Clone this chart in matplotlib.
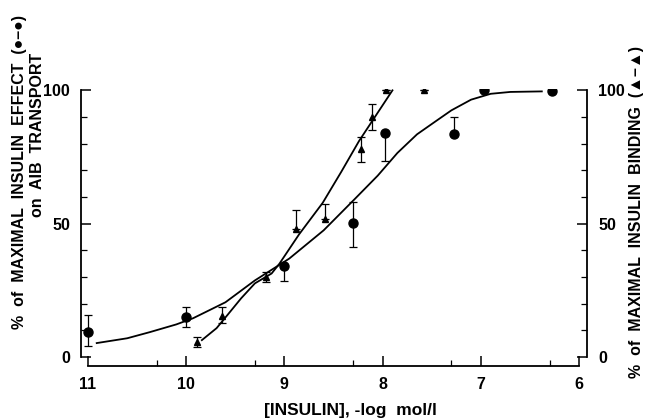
import numpy as np
import matplotlib
matplotlib.use('Agg')
import matplotlib.pyplot as plt
from matplotlib.ticker import FixedLocator

plt.rcParams['font.family'] = ['Liberation Sans', 'DejaVu Sans']

# insulin effect on AIB transport (circles)
eff_x = [11.0, 10.0, 9.0, 8.30, 7.98, 7.27, 6.97, 6.28]
eff_y = [9.3, 14.9, 34.0, 50.4, 84.0, 83.6, 100.0, 99.6]
eff_lo = [5.2, 3.7, 5.6, 9.0, 10.5, 0.0, 0.0, 0.0]
eff_hi = [6.4, 3.8, 0.0, 7.6, 0.0, 6.4, 0.0, 0.0]

# insulin binding (triangles)
bind_x = [9.89, 9.63, 9.19, 8.88, 8.59, 8.22, 8.11, 7.97, 7.58]
bind_y = [5.6, 15.3, 29.9, 48.1, 51.9, 78.0, 90.0, 100.0, 100.0]
bind_lo = [1.9, 2.6, 1.8, 0.0, 0.0, 5.0, 5.0, 0.0, 0.0]
bind_hi = [1.9, 3.4, 1.8, 7.1, 5.6, 4.5, 5.0, 0.0, 0.0]

# hand drawn curves
eff_curve_x = [10.91, 10.60, 10.37, 10.10, 9.93, 9.60, 9.30, 8.95, 8.60, 8.29, 8.05, 7.85, 7.65, 7.46, 7.30, 7.10, 6.90, 6.70, 6.38]
eff_curve_y = [5.2, 7.0, 9.3, 12.2, 14.5, 20.5, 28.7, 36.9, 47.5, 59.0, 68.0, 76.5, 83.5, 88.4, 92.5, 96.5, 98.7, 99.4, 99.6]

bind_curve_x = [9.84, 9.69, 9.58, 9.44, 9.30, 9.13, 9.05, 8.85, 8.61, 8.42, 8.24, 8.07, 7.90]
bind_curve_y = [6.3, 10.8, 15.7, 22.0, 27.6, 31.3, 35.0, 46.0, 57.8, 69.5, 81.0, 90.5, 100.0]

x_ticks = [11, 10, 9, 8, 7, 6]
x_minor = [10.3, 9.3, 8.3, 7.3, 6.3]
y_ticks = [0, 50, 100]

fig = plt.figure(figsize=(6.48, 4.2), dpi=100)
ax = fig.add_axes([81 / 648, 1 - 366 / 420, (587 - 81) / 648, (366 - 89) / 420])

ax.plot(eff_curve_x, eff_curve_y, color='black', lw=1.3, zorder=1)
ax.plot(bind_curve_x, bind_curve_y, color='black', lw=1.3, zorder=1)

ax.errorbar(eff_x, eff_y, yerr=[eff_lo, eff_hi], fmt='o', color='black', ms=6.5,
            ecolor='black', elinewidth=0.9, capsize=3, capthick=0.9, zorder=3)
ax.errorbar(bind_x, bind_y, yerr=[bind_lo, bind_hi], fmt='^', color='black', ms=4.5,
            ecolor='black', elinewidth=0.9, capsize=3, capthick=0.9, zorder=3)

ax.set_xlim(11.07, 5.92)
ax.set_ylim(-3.4, 100.5)

ax.spines['top'].set_visible(False)
ax.spines['left'].set_bounds(0, 100)
ax.spines['right'].set_bounds(0, 100)
ax.spines['bottom'].set_bounds(11, 6)
for s in ['left', 'right', 'bottom']:
    ax.spines[s].set_linewidth(1.3)

ax.set_xticks(x_ticks)
ax.set_xticklabels([str(v) for v in x_ticks])
ax.xaxis.set_minor_locator(FixedLocator(x_minor))
ax.set_yticks(y_ticks)
ax.yaxis.set_minor_locator(FixedLocator(np.arange(10, 100, 10)))

ax.tick_params(axis='both', which='major', direction='in', length=7, width=1.1,
               labelsize=11.5, pad=8)
ax.tick_params(axis='both', which='minor', direction='in', length=4, width=0.9)
ax.tick_params(axis='y', which='both', right=True, labelright=True)
for lab in ax.get_xticklabels() + ax.get_yticklabels():
    lab.set_fontweight('bold')
for t in ax.yaxis.get_major_ticks():
    t.label2.set_fontweight('bold')

fig.text(20 / 648, 1 - 172 / 420, '%  of  MAXIMAL  INSULIN  EFFECT  (●–●)', rotation=90,
         ha='center', va='center', fontsize=11.5, fontweight='bold')
fig.text(38 / 648, 1 - 135 / 420, 'on  AIB  TRANSPORT', rotation=90,
         ha='center', va='center', fontsize=11.5, fontweight='bold')
fig.text(636 / 648, 1 - 212 / 420, '%  of  MAXIMAL  INSULIN  BINDING  (▲–▲)', rotation=90,
         ha='center', va='center', fontsize=11.5, fontweight='bold')
fig.text(350 / 648, 1 - 410 / 420, '[INSULIN], -log  mol/l', ha='center', va='center',
         fontsize=12.5, fontweight='bold')

fig.savefig('out.png', dpi=100)
